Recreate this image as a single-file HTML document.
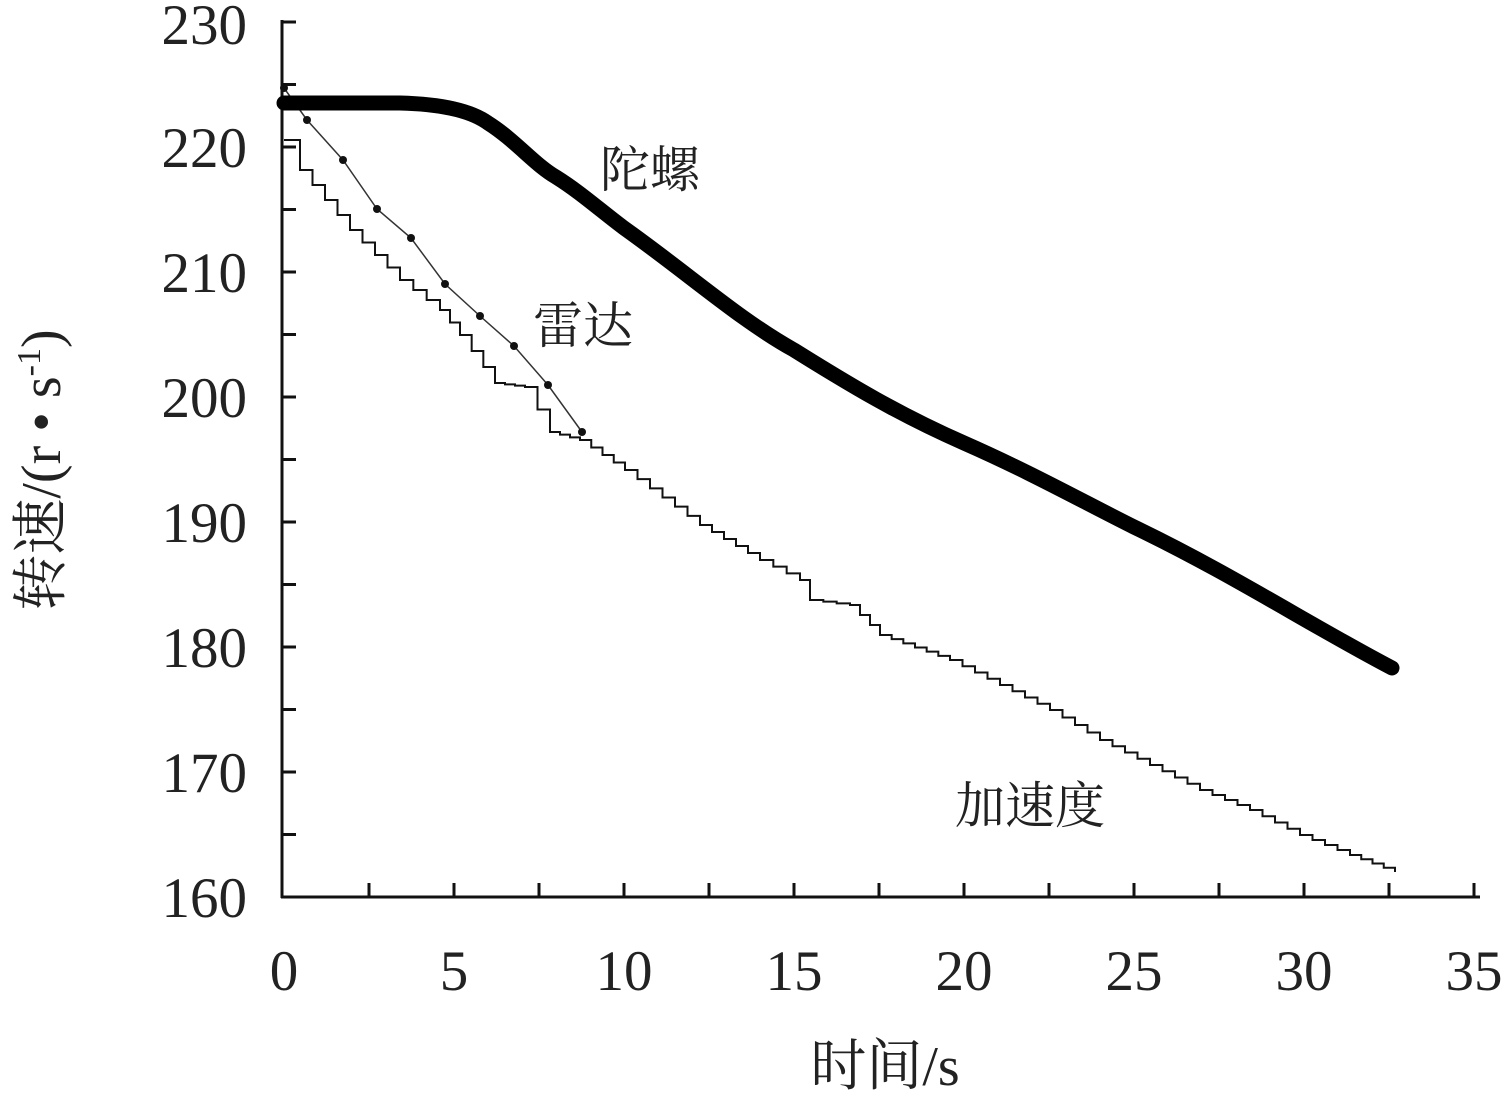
<!DOCTYPE html>
<html><head><meta charset="utf-8"><style>
html,body{margin:0;padding:0;background:#fff;}
svg{display:block;}
text{font-family:"Liberation Serif","Noto Serif CJK SC",serif;fill:#222;}
</style></head><body>
<svg id="s" width="1505" height="1095" viewBox="0 0 1505 1095">
<g stroke="#111" stroke-width="3" fill="none">
<line x1="282" y1="20" x2="282" y2="898"/>
<line x1="281" y1="897" x2="1480" y2="897"/>
</g>
<g id="ticks" stroke="#111" stroke-width="3"></g>
<g font-size="57" text-anchor="end">
<text x="247" y="917">160</text><text x="247" y="792">170</text><text x="247" y="667">180</text>
<text x="247" y="542">190</text><text x="247" y="417">200</text><text x="247" y="292">210</text>
<text x="247" y="167">220</text><text x="247" y="44">230</text>
</g>
<g font-size="57" text-anchor="middle">
<text x="284" y="990">0</text><text x="454" y="990">5</text><text x="624" y="990">10</text>
<text x="794" y="990">15</text><text x="964" y="990">20</text><text x="1134" y="990">25</text>
<text x="1304" y="990">30</text><text x="1474" y="990">35</text>
</g>
<text x="885" y="1085" font-size="56" text-anchor="middle">时间/s</text>
<text transform="translate(60,470) rotate(-90)" font-size="56" text-anchor="middle">转速/(r • s<tspan font-size="34" dy="-20">-1</tspan><tspan dy="20">)</tspan></text>
<text x="650" y="187" font-size="50" text-anchor="middle">陀螺</text>
<text x="583" y="343" font-size="50" text-anchor="middle">雷达</text>
<text x="1030" y="823" font-size="50" text-anchor="middle">加速度</text>
<polyline id="acc" fill="none" stroke="#111" stroke-width="2"/>
<polyline fill="none" stroke="#333" stroke-width="1.5" points="284,88 307,120 343,160 377,209 411,238 445,284 480,316 514,346 548,385 582,432"/>
<g fill="#111"><circle cx="284" cy="88" r="4"/><circle cx="307" cy="120" r="4"/><circle cx="343" cy="160" r="4"/><circle cx="377" cy="209" r="4"/><circle cx="411" cy="238" r="4"/><circle cx="445" cy="284" r="4"/><circle cx="480" cy="316" r="4"/><circle cx="514" cy="346" r="4"/><circle cx="548" cy="385" r="4"/><circle cx="582" cy="432" r="4"/></g>
<path fill="none" stroke="#000" stroke-width="15" stroke-linecap="round" d="M284,103 L400,103 C440,104 470,110 488,123 C515,140 535,165 556,177 C580,192 600,210 624,228 C690,275 740,320 794,350 C850,385 900,415 964,443 C1030,472 1080,500 1134,527 C1230,573 1310,625 1392,668"/>
</svg>
<script>
var t=document.getElementById('ticks'),h='';
for(var i=1;i<=14;i++){var x=284+i*85;h+='<line x1="'+x+'" y1="897" x2="'+x+'" y2="883"/>';}
for(var j=1;j<=14;j++){var y=897-j*62.5;h+='<line x1="282" y1="'+y+'" x2="296" y2="'+y+'"/>';}
t.innerHTML=h;
var k=[[284,140],[300,170],[350,230],[400,280],[440,310],[460,335],[495,383],[525,387],[550,432],[580,440],[625,470],[700,525],[760,560],[800,580],[810,600],[850,605],[880,635],[950,660],[1000,685],[1050,710],[1100,740],[1150,765],[1200,790],[1250,810],[1300,835],[1350,855],[1395,872]];
var p=[],px=k[0][0],py=k[0][1];p.push(px+','+py);
for(var a=1;a<k.length;a++){var x0=k[a-1][0],y0=k[a-1][1],x1=k[a][0],y1=k[a][1];var n=Math.max(1,Math.round((x1-x0)/12));
for(var b=1;b<=n;b++){var nx=x0+(x1-x0)*b/n,ny=y0+(y1-y0)*b/n;p.push(nx+','+py);p.push(nx+','+ny);py=ny;}}
document.getElementById('acc').setAttribute('points',p.join(' '));
</script>
</body></html>
